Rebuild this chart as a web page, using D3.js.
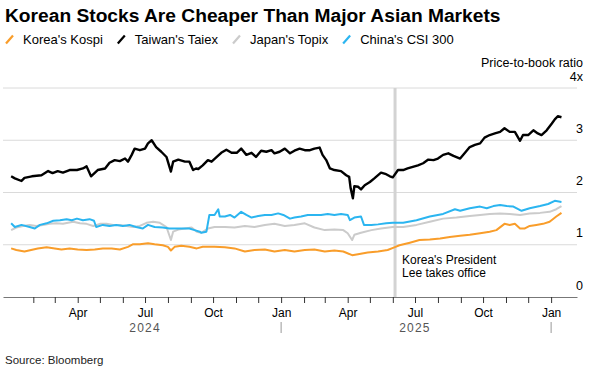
<!DOCTYPE html>
<html>
<head>
<meta charset="utf-8">
<script src="https://cdn.jsdelivr.net/npm/d3@7"></script>
<style>
  body { margin: 0; background: #fff; }
  text { font-family: "Liberation Sans", Arial, sans-serif; }
</style>
</head>
<body>
<div class="chart"></div>
<script>
// Data (price-to-book ratio)

var seriesNames = ["Korea's Kospi", "Taiwan's Taiex", "Japan's Topix", "China's CSI 300"];
var seriesColors = ["#f99d2a", "#000000", "#cbcbcb", "#2bb5f0"];

var kospi = [
  ["2024-01-02",0.93],["2024-01-09",0.90],["2024-01-20",0.87],["2024-01-29",0.90],["2024-02-07",0.93],
  ["2024-02-19",0.95],["2024-03-01",0.93],["2024-03-10",0.91],["2024-03-21",0.93],["2024-04-01",0.91],
  ["2024-04-13",0.90],["2024-04-24",0.91],["2024-05-05",0.93],["2024-05-17",0.93],["2024-05-28",0.91],
  ["2024-06-08",0.96],["2024-06-15",1.01],["2024-06-24",1.01],["2024-07-05",1.03],["2024-07-14",1.01],
  ["2024-07-25",0.99],["2024-08-01",0.96],["2024-08-05",0.89],["2024-08-10",0.96],["2024-08-19",0.98],
  ["2024-08-30",0.96],["2024-09-09",0.93],["2024-09-17",0.96],["2024-10-03",0.96],["2024-10-17",0.95],
  ["2024-10-30",0.93],["2024-11-13",0.87],["2024-11-26",0.90],["2024-12-10",0.91],["2024-12-23",0.87],
  ["2025-01-06",0.90],["2025-01-19",0.87],["2025-02-02",0.90],["2025-02-15",0.91],["2025-03-01",0.87],
  ["2025-03-14",0.89],["2025-03-26",0.87],["2025-04-07",0.80],["2025-04-15",0.82],["2025-04-28",0.85],
  ["2025-05-12",0.87],["2025-05-25",0.90],["2025-06-03",0.95],["2025-06-10",0.99],["2025-06-24",1.04],
  ["2025-07-07",1.09],["2025-07-21",1.10],["2025-08-04",1.12],["2025-08-17",1.15],["2025-08-31",1.17],
  ["2025-09-13",1.19],["2025-09-27",1.22],["2025-10-10",1.25],["2025-10-19",1.28],["2025-10-30",1.40],
  ["2025-11-06",1.38],["2025-11-13",1.40],["2025-11-20",1.31],["2025-11-26",1.31],["2025-12-03",1.36],
  ["2025-12-12",1.38],["2025-12-21",1.40],["2025-12-30",1.44],["2026-01-08",1.54],["2026-01-15",1.61]
];

var taiex = [
  ["2024-01-02",2.31],["2024-01-07",2.27],["2024-01-16",2.22],["2024-01-20",2.28],["2024-01-30",2.31],
  ["2024-02-12",2.33],["2024-02-21",2.41],["2024-02-27",2.37],["2024-03-05",2.41],["2024-03-12",2.38],
  ["2024-03-21",2.43],["2024-03-31",2.43],["2024-04-08",2.46],["2024-04-13",2.50],["2024-04-19",2.31],
  ["2024-04-28",2.43],["2024-05-08",2.46],["2024-05-14",2.57],["2024-05-21",2.62],["2024-05-28",2.60],
  ["2024-06-04",2.65],["2024-06-08",2.59],["2024-06-13",2.72],["2024-06-17",2.84],["2024-06-24",2.81],
  ["2024-07-01",2.84],["2024-07-05",2.94],["2024-07-10",3.00],["2024-07-16",2.87],["2024-07-23",2.78],
  ["2024-07-30",2.68],["2024-08-05",2.40],["2024-08-08",2.59],["2024-08-15",2.63],["2024-08-24",2.59],
  ["2024-08-30",2.59],["2024-09-04",2.43],["2024-09-08",2.46],["2024-09-11",2.45],["2024-09-17",2.52],
  ["2024-09-24",2.62],["2024-09-29",2.59],["2024-10-06",2.68],["2024-10-12",2.76],["2024-10-19",2.82],
  ["2024-10-26",2.76],["2024-11-02",2.76],["2024-11-08",2.84],["2024-11-15",2.72],["2024-11-22",2.76],
  ["2024-11-28",2.68],["2024-12-05",2.80],["2024-12-12",2.78],["2024-12-19",2.81],["2024-12-23",2.75],
  ["2024-12-30",2.78],["2025-01-06",2.84],["2025-01-13",2.75],["2025-01-19",2.80],["2025-01-26",2.84],
  ["2025-02-02",2.81],["2025-02-09",2.81],["2025-02-15",2.84],["2025-02-22",2.86],["2025-02-26",2.72],
  ["2025-03-03",2.62],["2025-03-08",2.46],["2025-03-14",2.43],["2025-03-23",2.41],["2025-03-30",2.33],
  ["2025-04-03",2.30],["2025-04-05",2.08],["2025-04-08",1.89],["2025-04-10",2.12],["2025-04-15",2.11],
  ["2025-04-19",2.06],["2025-04-24",2.14],["2025-05-01",2.20],["2025-05-07",2.27],["2025-05-16",2.38],
  ["2025-05-23",2.35],["2025-05-28",2.31],["2025-06-01",2.29],["2025-06-08",2.43],["2025-06-15",2.43],
  ["2025-06-21",2.46],["2025-06-28",2.49],["2025-07-05",2.52],["2025-07-12",2.56],["2025-07-19",2.63],
  ["2025-07-26",2.62],["2025-08-01",2.65],["2025-08-08",2.72],["2025-08-15",2.75],["2025-08-22",2.70],
  ["2025-08-31",2.65],["2025-09-06",2.75],["2025-09-13",2.87],["2025-09-20",2.91],["2025-09-27",2.94],
  ["2025-10-03",3.05],["2025-10-10",3.10],["2025-10-17",3.13],["2025-10-24",3.16],["2025-10-30",3.23],
  ["2025-11-06",3.16],["2025-11-13",3.16],["2025-11-20",2.99],["2025-11-24",3.10],["2025-12-01",3.10],
  ["2025-12-08",3.19],["2025-12-14",3.13],["2025-12-19",3.10],["2025-12-26",3.19],["2026-01-02",3.32],
  ["2026-01-06",3.40],["2026-01-10",3.46],["2026-01-15",3.44]
];

var topix = [
  ["2024-01-02",1.28],["2024-01-09",1.33],["2024-01-18",1.36],["2024-01-27",1.38],["2024-02-05",1.36],
  ["2024-02-14",1.38],["2024-02-23",1.40],["2024-03-03",1.41],["2024-03-12",1.40],["2024-03-19",1.42],
  ["2024-03-26",1.44],["2024-04-04",1.41],["2024-04-13",1.40],["2024-04-22",1.36],["2024-05-01",1.40],
  ["2024-05-10",1.40],["2024-05-19",1.38],["2024-05-28",1.38],["2024-06-06",1.36],["2024-06-15",1.34],
  ["2024-06-24",1.36],["2024-07-03",1.42],["2024-07-12",1.44],["2024-07-21",1.42],["2024-07-30",1.34],
  ["2024-08-05",1.09],["2024-08-08",1.25],["2024-08-15",1.29],["2024-08-24",1.31],["2024-09-02",1.33],
  ["2024-09-09",1.25],["2024-09-15",1.23],["2024-09-24",1.31],["2024-10-03",1.34],["2024-10-17",1.34],
  ["2024-10-30",1.33],["2024-11-13",1.36],["2024-11-26",1.34],["2024-12-10",1.38],["2024-12-23",1.40],
  ["2025-01-06",1.36],["2025-01-19",1.38],["2025-02-02",1.41],["2025-02-15",1.33],["2025-03-01",1.28],
  ["2025-03-14",1.29],["2025-03-26",1.28],["2025-04-01",1.22],["2025-04-07",1.09],["2025-04-10",1.19],
  ["2025-04-19",1.23],["2025-05-03",1.28],["2025-05-16",1.31],["2025-06-01",1.34],["2025-06-15",1.34],
  ["2025-07-03",1.38],["2025-07-21",1.44],["2025-08-08",1.50],["2025-08-26",1.52],["2025-09-13",1.55],
  ["2025-09-27",1.57],["2025-10-10",1.59],["2025-10-24",1.60],["2025-11-06",1.59],["2025-11-20",1.57],
  ["2025-12-03",1.60],["2025-12-17",1.61],["2025-12-30",1.63],["2026-01-08",1.68],["2026-01-15",1.74]
];

var csi300 = [
  ["2024-01-02",1.41],["2024-01-07",1.34],["2024-01-16",1.38],["2024-01-27",1.34],["2024-02-03",1.31],
  ["2024-02-10",1.38],["2024-02-19",1.41],["2024-02-28",1.46],["2024-03-08",1.47],["2024-03-17",1.49],
  ["2024-03-24",1.47],["2024-03-31",1.50],["2024-04-08",1.47],["2024-04-17",1.49],["2024-04-23",1.46],
  ["2024-04-26",1.34],["2024-05-05",1.38],["2024-05-14",1.36],["2024-05-23",1.38],["2024-06-01",1.36],
  ["2024-06-10",1.38],["2024-06-19",1.34],["2024-06-28",1.31],["2024-07-05",1.38],["2024-07-14",1.34],
  ["2024-07-25",1.33],["2024-08-03",1.31],["2024-08-13",1.31],["2024-08-21",1.31],["2024-08-30",1.31],
  ["2024-09-06",1.28],["2024-09-13",1.25],["2024-09-15",1.23],["2024-09-22",1.25],["2024-09-26",1.57],
  ["2024-10-03",1.57],["2024-10-08",1.68],["2024-10-10",1.54],["2024-10-17",1.54],["2024-10-24",1.57],
  ["2024-10-30",1.52],["2024-11-08",1.63],["2024-11-15",1.57],["2024-11-22",1.52],["2024-12-01",1.55],
  ["2024-12-10",1.57],["2024-12-19",1.57],["2024-12-28",1.60],["2025-01-04",1.57],["2025-01-13",1.50],
  ["2025-01-19",1.52],["2025-01-28",1.54],["2025-02-06",1.57],["2025-02-15",1.57],["2025-02-24",1.57],
  ["2025-03-05",1.59],["2025-03-14",1.57],["2025-03-23",1.59],["2025-04-01",1.57],["2025-04-04",1.47],
  ["2025-04-10",1.52],["2025-04-19",1.54],["2025-04-23",1.38],["2025-05-03",1.38],["2025-05-12",1.39],
  ["2025-05-23",1.41],["2025-06-01",1.42],["2025-06-15",1.42],["2025-07-03",1.47],["2025-07-21",1.54],
  ["2025-08-08",1.59],["2025-08-24",1.68],["2025-08-31",1.65],["2025-09-13",1.70],["2025-09-27",1.73],
  ["2025-10-06",1.70],["2025-10-15",1.74],["2025-10-24",1.76],["2025-11-02",1.74],["2025-11-11",1.73],
  ["2025-11-22",1.65],["2025-12-03",1.70],["2025-12-17",1.74],["2025-12-28",1.78],["2026-01-06",1.84],
  ["2026-01-15",1.82]
];

var yTicks = [0, 1, 2, 3, 4];
var yTickLabels = ["0", "1", "2", "3", "4x"];
var monthLabels = ["Apr", "Jul", "Oct", "Jan"];
var years = ["2024", "2025"];
var annotationDate = "2025-06-04";
var annotationLines = ["Korea's President", "Lee takes office"];

// Set chart area

var svgWidth = 591;
var svgHeight = 369;

var svg = d3.select(".chart")
    .append("svg")
    .attr("width", svgWidth)
    .attr("height", svgHeight);

var parseDate = d3.timeParse("%Y-%m-%d");

var xScale = d3.scaleTime()
    .domain([parseDate("2023-12-22"), parseDate("2026-02-05")])
    .range([3, 577]);

var yScale = d3.scaleLinear()
    .domain([0, 4])
    .range([297, 88]);

// title + legend

svg.append("text")
    .attr("x", 5)
    .attr("y", 22)
    .attr("font-size", "19.2px")
    .attr("font-weight", "bold")
    .attr("fill", "#000")
    .text("Korean Stocks Are Cheaper Than Major Asian Markets");

var legendX = 5;
seriesNames.forEach(function(name, i) {
    var g = svg.append("g").attr("transform", `translate(${legendX}, 0)`);
    g.append("line")
        .attr("x1", 1).attr("y1", 43.5)
        .attr("x2", 8).attr("y2", 35.5)
        .attr("stroke", seriesColors[i])
        .attr("stroke-width", 2.2);
    var t = g.append("text")
        .attr("x", 18)
        .attr("y", 44)
        .attr("font-size", "13px")
        .attr("fill", "#000")
        .text(name);
    legendX += 18 + t.node().getComputedTextLength() + 14;
});

// gridlines

svg.append("g")
    .selectAll("line")
    .data(yTicks.filter(d => d > 0))
    .enter()
    .append("line")
    .attr("x1", 3)
    .attr("x2", 577)
    .attr("y1", d => yScale(d))
    .attr("y2", d => yScale(d))
    .attr("stroke", "#dadada")
    .attr("stroke-width", 1);

// y labels on the right

svg.append("g")
    .selectAll("text")
    .data(yTicks)
    .enter()
    .append("text")
    .attr("x", 583)
    .attr("y", d => yScale(d) - 7.5)
    .attr("text-anchor", "end")
    .attr("font-size", "12.5px")
    .attr("fill", "#000")
    .text((d, i) => yTickLabels[i]);

svg.append("text")
    .attr("x", 583)
    .attr("y", 67.3)
    .attr("text-anchor", "end")
    .attr("font-size", "12.5px")
    .attr("fill", "#000")
    .text("Price-to-book ratio");

// annotation line (under the data)

var annX = xScale(parseDate(annotationDate));
svg.append("line")
    .attr("x1", annX).attr("x2", annX)
    .attr("y1", yScale(4)).attr("y2", yScale(0))
    .attr("stroke", "#d3d3d3")
    .attr("stroke-width", 3);

// lines

var line = d3.line()
    .x(d => xScale(parseDate(d[0])))
    .y(d => yScale(d[1]));

[kospi, taiex, topix, csi300].forEach(function(data, i) {
    svg.append("path")
        .datum(data)
        .attr("d", line)
        .attr("fill", "none")
        .attr("stroke", seriesColors[i])
        .attr("stroke-width", i === 1 ? 2.4 : 2)
        .attr("stroke-linejoin", "round");
});

// x axis

var monthTicks = d3.timeMonth.range(parseDate("2024-02-01"), parseDate("2026-01-02"));
var fmt = d3.timeFormat("%b");

var xAxis = d3.axisBottom(xScale)
    .tickValues(monthTicks)
    .tickSize(6)
    .tickSizeOuter(0)
    .tickPadding(5)
    .tickFormat(d => monthLabels.indexOf(fmt(d)) >= 0 ? fmt(d) : "");

var xAxisG = svg.append("g")
    .attr("transform", "translate(0, 297)")
    .call(xAxis);

xAxisG.select(".domain").attr("stroke", "#777");
xAxisG.selectAll(".tick line").attr("stroke", "#333");
xAxisG.selectAll(".tick text")
    .attr("font-size", "12px")
    .attr("font-family", "Liberation Sans, Arial, sans-serif")
    .attr("fill", "#000");

// years

years.forEach(function(yr) {
    svg.append("text")
        .attr("x", xScale(parseDate(yr + "-07-01")))
        .attr("y", 331.7)
        .attr("text-anchor", "middle")
        .attr("font-size", "12px")
        .attr("letter-spacing", "1.2px")
        .attr("fill", "#555")
        .text(yr);
    var sep = xScale(parseDate((+yr + 1) + "-01-01"));
    svg.append("line")
        .attr("x1", sep).attr("x2", sep)
        .attr("y1", 322).attr("y2", 333)
        .attr("stroke", "#999")
        .attr("stroke-width", 1);
});

// annotation text

svg.append("g")
    .selectAll("text")
    .data(annotationLines)
    .enter()
    .append("text")
    .attr("x", annX + 7)
    .attr("y", (d, i) => 263.5 + i * 13.5)
    .attr("font-size", "12px")
    .attr("fill", "#000")
    .text(d => d);

// source

svg.append("text")
    .attr("x", 5)
    .attr("y", 364)
    .attr("font-size", "11.5px")
    .attr("fill", "#222")
    .text("Source: Bloomberg");
</script>
</body>
</html>
